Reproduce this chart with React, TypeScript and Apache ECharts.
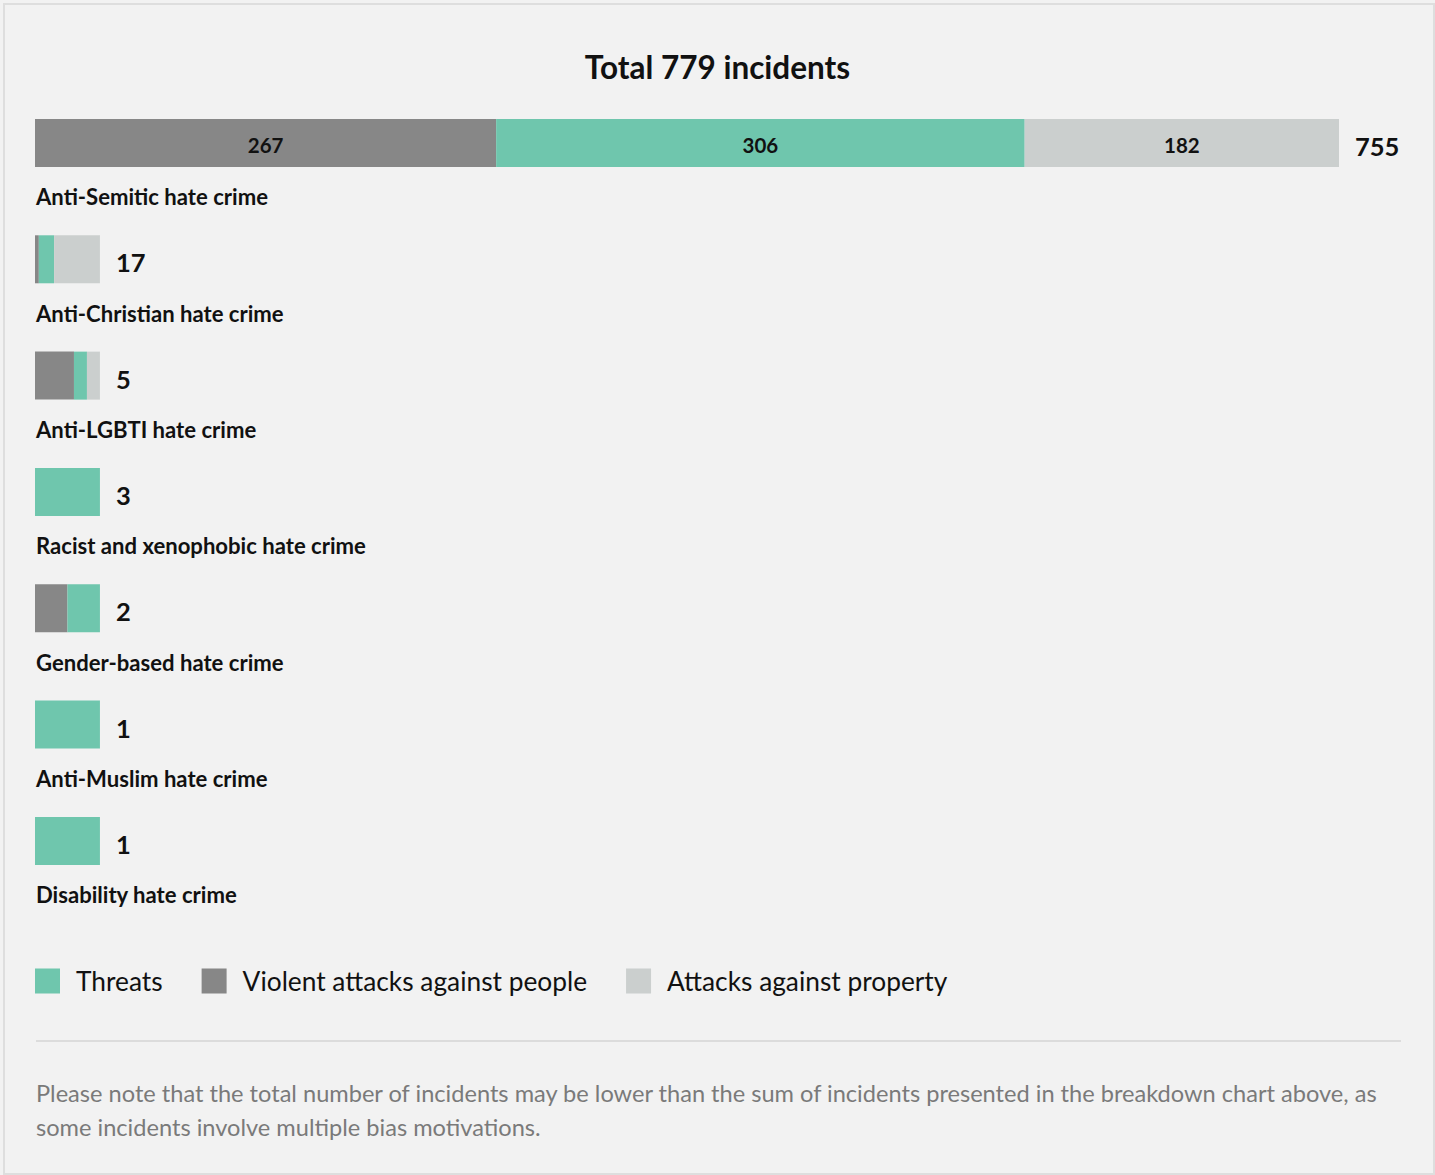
import React, { useEffect, useRef } from 'react';
import * as echarts from 'echarts';

const titleText = 'Total 779 incidents';
const categories = [
  'Anti-Semitic hate crime',
  'Anti-Christian hate crime',
  'Anti-LGBTI hate crime',
  'Racist and xenophobic hate crime',
  'Gender-based hate crime',
  'Anti-Muslim hate crime',
  'Disability hate crime',
];
const violent = [267, 1, 3, 0, 1, 0, 0];
const threats = [306, 4, 1, 3, 1, 1, 1];
const property = [182, 12, 1, 0, 0, 0, 0];
const totals = [755, 17, 5, 3, 2, 1, 1];
const legendNames = ['Threats', 'Violent attacks against people', 'Attacks against property'];
const footnoteLines = [
  'Please note that the total number of incidents may be lower than the sum of incidents presented in the breakdown chart above, as',
  'some incidents involve multiple bias motivations.',
];

const FONT = 'Lato, "Noto Sans", sans-serif';
const MIN_TOTAL = 37.6; // minimum drawn bar length (value units)
const COLORS = { threats: '#6fc6ad', violent: '#878787', property: '#cbcfce' };

export default function App() {
  const ref = useRef<HTMLDivElement>(null);
  useEffect(() => {
    const chart = echarts.init(ref.current!, null, { renderer: 'svg' });
    const scale = totals.map((t) => Math.max(t, MIN_TOTAL) / t);
    const mk = (arr: number[]) =>
      arr.map((v, i) => ({ value: v * scale[i], raw: v, label: { show: v * scale[i] >= 50 } }));
    const segLabel = {
      position: 'inside',
      offset: [0, 2],
      color: '#111',
      fontSize: 20.5,
      fontWeight: 'bold',
      fontFamily: FONT,
      formatter: (p: any) => String(p.data.raw),
    };
    const mkSeries = (name: string, arr: number[], color: string) => ({
      name,
      type: 'bar',
      stack: 'all',
      barWidth: 48,
      itemStyle: { color },
      label: segLabel,
      emphasis: { disabled: true },
      data: mk(arr),
    });
    chart.setOption({
      animation: false,
      backgroundColor: '#f2f2f2',
      title: {
        text: titleText,
        left: 'center',
        top: 46,
        textStyle: { fontSize: 31.5, fontWeight: 'bold', color: '#111', fontFamily: FONT },
      },
      legend: {
        data: legendNames,
        left: 35,
        top: 968,
        padding: 0,
        itemWidth: 25,
        itemHeight: 25,
        itemGap: 39,
        icon: 'rect',
        selectedMode: false,
        textStyle: { fontSize: 26.3, color: '#111', fontFamily: FONT, padding: [0, 0, 0, 11] },
      },
      grid: {
        left: 35,
        right: 96,
        top: 84.8,
        height: 814.3,
        containLabel: false,
        outerBoundsMode: 'none',
      },
      xAxis: { type: 'value', min: 0, max: totals[0], show: false },
      yAxis: {
        type: 'category',
        inverse: true,
        data: categories,
        axisLine: { show: false },
        axisTick: { show: false },
        axisLabel: {
          inside: true,
          interval: 0,
          margin: 1,
          align: 'left',
          verticalAlign: 'top',
          lineHeight: 108,
          fontSize: 22.1,
          fontWeight: 'bold',
          color: '#111',
          fontFamily: FONT,
        },
      },
      series: [
        mkSeries('Violent attacks against people', violent, COLORS.violent),
        mkSeries('Threats', threats, COLORS.threats),
        mkSeries('Attacks against property', property, COLORS.property),
        {
          name: 'total',
          type: 'bar',
          stack: 'all',
          barWidth: 48,
          silent: true,
          itemStyle: { color: 'transparent' },
          label: {
            show: true,
            position: 'right',
            distance: 16,
            offset: [0, 3],
            color: '#111',
            fontSize: 25.5,
            fontWeight: 'bold',
            fontFamily: FONT,
            formatter: (p: any) => String(totals[p.dataIndex]),
          },
          data: totals.map(() => 0),
        },
      ],
      graphic: [
        {
          type: 'rect',
          silent: true,
          shape: { x: 4, y: 4, width: 1430, height: 1170 },
          style: { fill: 'none', stroke: '#dedede', lineWidth: 2 },
        },
        {
          type: 'line',
          silent: true,
          shape: { x1: 36, y1: 1041, x2: 1401, y2: 1041 },
          style: { stroke: '#dcdcdc', lineWidth: 2 },
        },
        {
          type: 'text',
          silent: true,
          x: 36,
          y: 1076,
          style: {
            text: footnoteLines.join('\n'),
            fontSize: 23.6,
            lineHeight: 34,
            fill: '#7a7a7a',
            fontFamily: FONT,
          },
        },
      ],
    });
    return () => chart.dispose();
  }, []);
  return (
    <div
      ref={ref}
      style={{ position: 'absolute', left: 0, top: 0, width: 1435, height: 1175 }}
    />
  );
}
